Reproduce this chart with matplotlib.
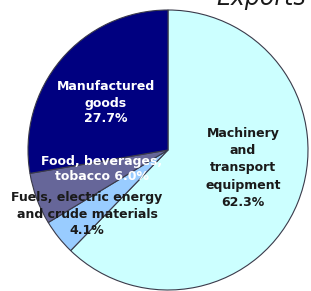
import matplotlib
matplotlib.use("Agg")
import matplotlib.pyplot as plt

# Exports by commodity group, share of total (%)
categories = ["Machinery\nand\ntransport\nequipment",
              "Fuels, electric energy\nand crude materials",
              "Food, beverages,\ntobacco",
              "Manufactured\ngoods"]
shares = [62.3, 4.1, 6.0, 27.7]
colors = ["#ccffff", "#99ccff", "#666699", "#000080"]
text_colors = ["#1a1a1a", "#1a1a1a", "white", "white"]
title = "Exports"

W, H = 311, 291
fig = plt.figure(figsize=(W / 100, H / 100), dpi=100)
fig.patch.set_facecolor("white")

cx, cy, r = 168, 150, 140
ax = fig.add_axes([(cx - r) / W, (H - cy - r) / H, 2 * r / W, 2 * r / H])
ax.pie(shares, colors=colors, startangle=90, counterclock=False, radius=1,
       wedgeprops=dict(edgecolor="#3a3a4a", linewidth=0.8))
ax.set_xlim(-1, 1)
ax.set_ylim(-1, 1)
ax.set_aspect("equal")
ax.axis("off")


def px(x, y):
    return (x - cx) / r, (cy - y) / r


# label anchor points in pixels (layout only)
anchors = [(243, 168), (87, 214), (102, 169), (106, 103)]
spacings = [1.45, 1.3, 1.3, 1.3]
label_texts = [
    f"{categories[0]}\n{shares[0]}%",
    f"{categories[1]}\n{shares[1]}%",
    f"{categories[2]} {shares[2]}%",
    f"{categories[3]}\n{shares[3]}%",
]
for (x, y), txt, tc, ls in zip(anchors, label_texts, text_colors, spacings):
    ax.text(*px(x, y), txt, ha="center", va="center", color=tc,
            fontsize=9, fontweight="bold", linespacing=ls,
            family="DejaVu Sans")

# title is mostly cropped away in the original
fig.text(0.84, 1 - 5 / H, title, ha="center", va="baseline", fontsize=17,
         style="italic", color="#1a1a1a")

fig.savefig("out.png", dpi=100)
